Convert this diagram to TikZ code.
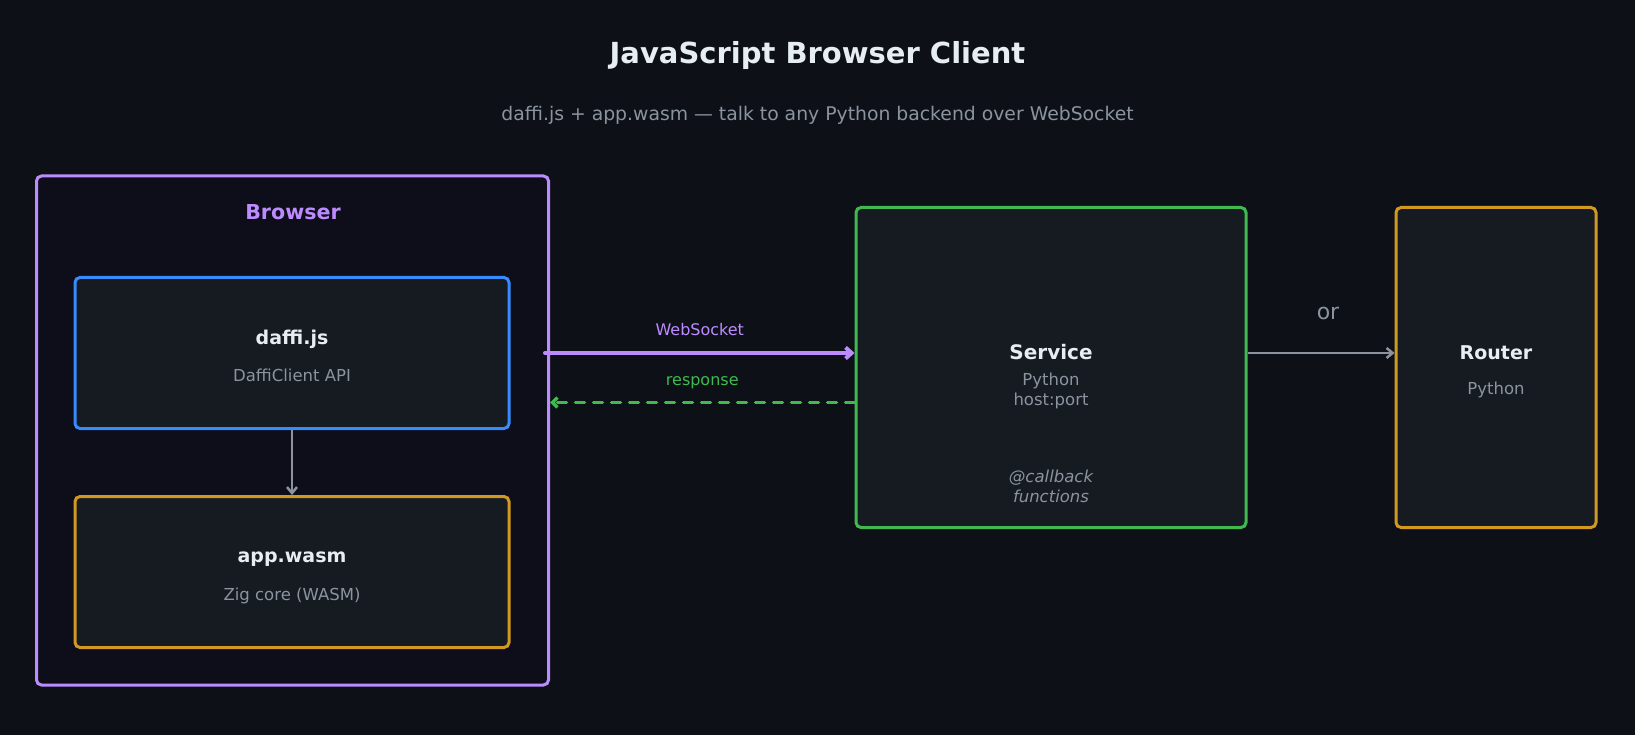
\documentclass[tikz,border=0pt]{standalone}
\usepackage{fontspec}
\setmainfont{DejaVu Sans}
\usetikzlibrary{arrows.meta}
\definecolor{bg}{HTML}{0D1117}
\definecolor{boxfill}{HTML}{161B22}
\definecolor{brfill}{HTML}{0E0D1A}
\definecolor{purp}{HTML}{BC8CFF}
\definecolor{blu}{HTML}{388BFD}
\definecolor{orng}{HTML}{D29922}
\definecolor{grn}{HTML}{3FB950}
\definecolor{gtext}{HTML}{8B949E}
\definecolor{wtext}{HTML}{E6EDF3}
\tikzset{
  box/.style={draw, line width=3pt, rounded corners=5pt, fill=boxfill, inner sep=0pt},
  titletxt/.style={text=wtext, font=\bfseries\fontsize{29}{33}\selectfont},
  subtxt/.style={text=gtext, font=\fontsize{18.8}{22}\selectfont},
  headtxt/.style={text=wtext, font=\bfseries\fontsize{19}{22}\selectfont},
  smalltxt/.style={text=gtext, font=\fontsize{16.5}{19}\selectfont, align=center},
  arrowlbl/.style={font=\fontsize{16}{19}\selectfont},
}
\begin{document}
\begin{tikzpicture}[x=1pt,y=-1pt]
\useasboundingbox (0,0) rectangle (1635,735);
\fill[bg] (0,0) rectangle (1635,735);

% titles
\node[titletxt] (title) at (817.5,55.5) {JavaScript Browser Client};
\node[subtxt] (subtitle) at (817.5,115.5) {daffi.js + app.wasm — talk to any Python backend over WebSocket};

% Browser container
\node[box, draw=purp, fill=brfill, minimum width=512pt, minimum height=509pt] (browser) at (292.5,430.5) {};
\node[text=purp, font=\bfseries\fontsize{20.6}{24}\selectfont] (browserlbl) at (293,212.5) {Browser};

% daffi.js
\node[box, draw=blu, minimum width=434pt, minimum height=151pt] (daffi) at (292,353) {};
\node[headtxt] (daffit) at (292,339) {daffi.js};
\node[smalltxt] (daffis) at (292,375.5) {DaffiClient API};

% app.wasm
\node[box, draw=orng, minimum width=434pt, minimum height=151pt] (wasm) at (292,572) {};
\node[headtxt] (wasmt) at (292,559.5) {app.wasm};
\node[smalltxt] (wasms) at (292,595.5) {Zig core (WASM)};

% Service
\node[box, draw=grn, minimum width=390pt, minimum height=320pt] (service) at (1051,367.5) {};
\node[headtxt, font=\bfseries\fontsize{20}{24}\selectfont] (servicet) at (1051,352.5) {Service};
\node[smalltxt, font=\fontsize{16.5}{20}\selectfont] (services) at (1051,390.5) {Python\\host:port};
\node[smalltxt, font=\itshape\fontsize{16.5}{20}\selectfont] (servicecb) at (1051,486) {@callback\\functions};

% Router
\node[box, draw=orng, minimum width=200pt, minimum height=320pt] (router) at (1496,367.5) {};
\node[headtxt] (routert) at (1496,352.5) {Router};
\node[smalltxt] (routers) at (1496,389.5) {Python};

% connectors
\draw[gtext, line width=2.5pt, -{Straight Barb[length=6pt,width=10pt]}] (daffi.south) -- (wasm.north);

\draw[purp, line width=4pt, line cap=round, -{Straight Barb[length=6pt,width=11pt]}]
  ([xshift=-5pt]browser.east |- daffi.east) -- (service.west |- daffi.east)
  node[midway, above=12pt, arrowlbl, text=purp] (wslbl) {WebSocket};

\draw[grn, line width=3.5pt, line cap=round, dash pattern=on 9pt off 9pt, -{Straight Barb[length=5pt,width=10pt]}]
  ([yshift=-49.5pt]service.west |- daffi.east) -- ([yshift=-49.5pt]browser.east |- daffi.east)
  node[midway, above=9pt, arrowlbl, text=grn] (resplbl) {response};

\draw[gtext, line width=2.5pt, -{Straight Barb[length=6pt,width=10pt]}]
  (service.east |- daffi.east) -- (router.west |- daffi.east)
  node[midway, above=29pt, xshift=7pt, text=gtext, font=\fontsize{22}{26}\selectfont] (orlbl) {or};
\end{tikzpicture}
\end{document}
